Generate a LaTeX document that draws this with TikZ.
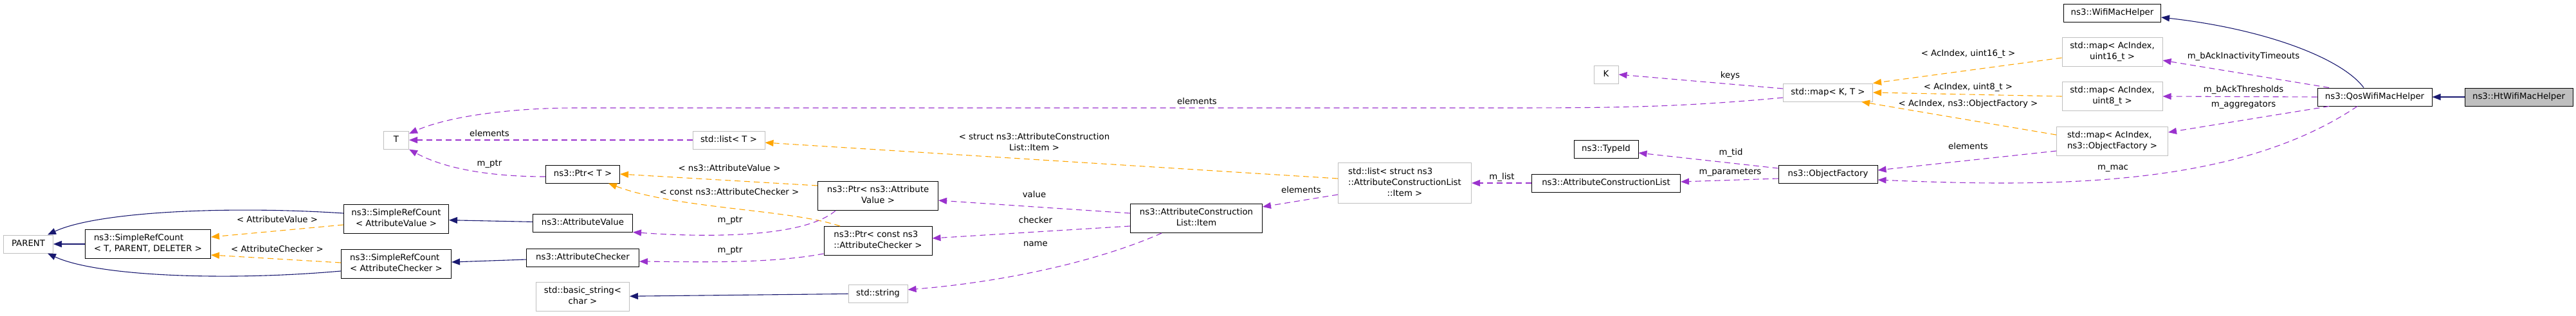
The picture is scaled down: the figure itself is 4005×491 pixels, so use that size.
\documentclass[tikz,border=0pt]{standalone}
\usepackage{fontspec}
\setmainfont{DejaVu Sans}
\usepackage{tikz}
\usetikzlibrary{arrows.meta, positioning}
\definecolor{inhblue}{RGB}{25, 25, 112}
\definecolor{useviolet}{RGB}{154, 50, 205}
\definecolor{tplorange}{RGB}{255, 165, 0}
\definecolor{extgrey}{RGB}{191, 191, 191}
\newcommand{\dxfont}{\fontsize{13.3}{17}\selectfont}
% two lines: first left, last centred
\newcommand{\dl}[2]{\begin{tabular}{@{}l@{}}#1\\\multicolumn{1}{@{}c@{}}{#2}\end{tabular}}

\begin{document}
\begin{tikzpicture}[
  x=1pt, y=-1pt,
  every node/.style={font=\dxfont},
  cls/.style={draw=black, line width=1pt, fill=white, inner sep=0pt},
  ext/.style={draw=extgrey, line width=1pt, fill=white, inner sep=0pt},
  cur/.style={cls, fill=extgrey},
  one/.style={minimum height=28pt, text height=10pt, text depth=3pt},
  two/.style={minimum height=45pt},
  three/.style={minimum height=63pt},
  inh/.style={-{Triangle[length=13pt, width=10pt]}, draw=inhblue, line width=1.1pt},
  tpl/.style={-{Triangle[length=13pt, width=10pt]}, draw=tplorange, line width=1.1pt, dash pattern=on 9pt off 6pt},
  use/.style={-{Triangle[length=13pt, width=10pt]}, draw=useviolet, line width=1.1pt, dash pattern=on 9pt off 6pt},
  lbl/.style={inner sep=0pt, align=center}
]
  \useasboundingbox (0,0) rectangle (4005,491);

  % Nodi
  \node[ext, one, minimum width=77pt] (parent) at (44,380) {PARENT};
  \node[cls, two, minimum width=195pt] (srcbase) at (230,380) {\dl{ns3::SimpleRefCount}{< T, PARENT, DELETER >}};
  \node[cls, two, minimum width=163pt] (srcval) at (616,341) {\dl{ns3::SimpleRefCount}{< AttributeValue >}};
  \node[cls, two, minimum width=171pt] (srcchk) at (616,411) {\dl{ns3::SimpleRefCount}{< AttributeChecker >}};
  \node[ext, one, minimum width=39pt] (tparam) at (616,218) {T};
  \node[ext, one, minimum width=112pt] (listt) at (1133,218) {std::list< T >};
  \node[cls, one, minimum width=115pt] (ptrt) at (906,271) {ns3::Ptr< T >};
  \node[cls, one, minimum width=155pt] (attrval) at (906,347) {ns3::AttributeValue};
  \node[cls, one, minimum width=175pt] (attrchk) at (906,401) {ns3::AttributeChecker};
  \node[ext, two, minimum width=145pt] (basicstr) at (906,462) {\dl{std::basic\_string<}{char >}};
  \node[cls, two, minimum width=187pt] (ptrval) at (1365,305) {\dl{ns3::Ptr< ns3::Attribute}{Value >}};
  \node[cls, two, minimum width=168pt] (ptrchk) at (1365,375) {\dl{ns3::Ptr< const ns3}{::AttributeChecker >}};
  \node[ext, one, minimum width=92pt] (stdstr) at (1365,457) {std::string};
  \node[cls, two, minimum width=205pt] (item) at (1860,340) {\dl{ns3::AttributeConstruction}{List::Item}};
  \node[ext, three, minimum width=207pt] (listitem) at (2184,285) {\dl{std::list< struct ns3\\::AttributeConstructionList}{::Item >}};
  \node[cls, one, minimum width=100pt] (typeid) at (2497,232) {ns3::TypeId};
  \node[cls, one, minimum width=231pt] (acl) at (2497,285) {ns3::AttributeConstructionList};
  \node[ext, one, minimum width=38pt] (kparam) at (2497,116) {K};
  \node[ext, one, minimum width=139pt] (mapkt) at (2842,144) {std::map< K, T >};
  \node[cls, one, minimum width=154pt] (objfac) at (2842,271) {ns3::ObjectFactory};
  \node[cls, one, minimum width=151pt] (wifimac) at (3284,20) {ns3::WifiMacHelper};
  \node[ext, two, minimum width=156pt] (map16) at (3284,81) {\dl{std::map< AcIndex,}{uint16\_t >}};
  \node[ext, two, minimum width=156pt] (map8) at (3284,150) {\dl{std::map< AcIndex,}{uint8\_t >}};
  \node[ext, two, minimum width=173pt] (mapof) at (3284,220) {\dl{std::map< AcIndex,}{ns3::ObjectFactory >}};
  \node[cls, one, minimum width=178pt] (qos) at (3692,151) {ns3::QosWifiMacHelper};
  \node[cur, one, minimum width=168pt] (ht) at (3916,151) {ns3::HtWifiMacHelper};

  % Ereditarieta
  \draw[inh] (ht) -- (qos);
  \draw[inh] ([xshift=-17pt]qos.north) .. controls (3640,90) and (3520,45) .. ([yshift=-7pt]wifimac.east);
  \draw[inh] (srcbase) -- (parent);
  \draw[inh] ([yshift=9pt]srcval.west) .. controls (350,320) and (150,330) .. ([xshift=30pt]parent.north);
  \draw[inh] ([yshift=-11pt]srcchk.west) .. controls (350,438) and (150,430) .. ([xshift=30pt]parent.south);
  \draw[inh] (attrval) -- (srcval);
  \draw[inh] (attrchk) -- (srcchk);
  \draw[inh] (stdstr) -- (basicstr);

  % Istanze di template
  \draw[tpl] ([yshift=-9pt]srcval.west) -- ([yshift=11pt]srcbase.east)
    node[lbl] at (431,342) {< AttributeValue >};
  \draw[tpl] ([yshift=2pt]srcchk.west) -- ([yshift=-17pt]srcbase.east)
    node[lbl] at (431,388) {< AttributeChecker >};
  \draw[tpl] ([yshift=7pt]listitem.west) -- ([yshift=-4pt]listt.east)
    node[lbl] at (1608,221) {< struct ns3::AttributeConstruction\\List::Item >};
  \draw[tpl] ([yshift=16pt]ptrval.west) -- (ptrt.east)
    node[lbl] at (1134,262) {< ns3::AttributeValue >};
  \draw[tpl] ([xshift=-59pt]ptrchk.north) .. controls (1230,326) and (1050,325) .. ([xshift=40pt]ptrt.south)
    node[lbl] at (1134,299) {< const ns3::AttributeChecker >};
  \draw[tpl] ([yshift=-9pt]map16.west) -- (mapkt.north east)
    node[lbl] at (3060,84) {< AcIndex, uint16\_t >};
  \draw[tpl] (map8.west) -- (mapkt.east)
    node[lbl] at (3060,136) {< AcIndex, uint8\_t >};
  \draw[tpl] ([yshift=10pt]mapof.west) -- ([xshift=-18pt]mapkt.south east)
    node[lbl] at (3060,162) {< AcIndex, ns3::ObjectFactory >};

  % Membri
  \draw[use] (listt) -- (tparam) node[lbl] at (761,208) {elements};
  \draw[use] ([yshift=-8pt]mapkt.west) .. controls (2600,168) and (2500,168) .. (2300,168) -- (895,168)
    .. controls (800,168) and (700,180) .. ([yshift=10pt]tparam.east)
    node[lbl] at (1861,158) {elements};
  \draw[use] ([yshift=6pt]mapkt.west) -- (kparam.east) node[lbl] at (2690,118) {keys};
  \draw[use] ([yshift=-4pt]ptrt.west) .. controls (760,275) and (690,262) .. (tparam.south east)
    node[lbl] at (761,255) {m\_ptr};
  \draw[use] ([xshift=-66pt]ptrval.south) .. controls (1250,370) and (1100,370) .. (attrval.south east)
    node[lbl] at (1135,343) {m\_ptr};
  \draw[use] ([yshift=-20pt]ptrchk.west) .. controls (1200,410) and (1100,408) .. ([yshift=-6pt]attrchk.east)
    node[lbl] at (1135,390) {m\_ptr};
  \draw[use] ([yshift=8pt]item.west) -- ([yshift=-7pt]ptrval.east) node[lbl] at (1608,303) {value};
  \draw[use] ([yshift=-12pt]item.west) -- ([yshift=4pt]ptrchk.east) node[lbl] at (1610,343) {checker};
  \draw[use] ([xshift=-54pt]item.south) .. controls (1700,410) and (1550,440) .. ([yshift=6pt]stdstr.east)
    node[lbl] at (1610,380) {name};
  \draw[use] ([yshift=-18pt]listitem.west) -- ([yshift=18pt]item.east) node[lbl] at (2023,296) {elements};
  \draw[use] (acl.west) -- (listitem.east) node[lbl] at (2335,276) {m\_list};
  \draw[use] ([yshift=9pt]objfac.west) -- ([yshift=-6pt]typeid.east) node[lbl] at (2691,238) {m\_tid};
  \draw[use] ([yshift=-7pt]objfac.west) -- ([yshift=2pt]acl.east) node[lbl] at (2690,268) {m\_parameters};
  \draw[use] ([yshift=-15pt]mapof.west) -- ([yshift=6pt]objfac.east) node[lbl] at (3060,228) {elements};
  \draw[use] ([xshift=-71pt]qos.north) -- ([yshift=-13pt]map16.east)
    node[lbl] at (3488,88) {m\_bAckInactivityTimeouts};
  \draw[use] (qos.west) -- (map8.east) node[lbl] at (3488,140) {m\_bAckThresholds};
  \draw[use] ([xshift=-71pt]qos.south) -- ([yshift=14pt]mapof.east) node[lbl] at (3488,163) {m\_aggregators};
  \draw[use] ([xshift=-27pt]qos.south) .. controls (3480,290) and (3200,292) .. ([yshift=-9pt]objfac.east)
    node[lbl] at (3285,262) {m\_mac};

\end{tikzpicture}
\end{document}
